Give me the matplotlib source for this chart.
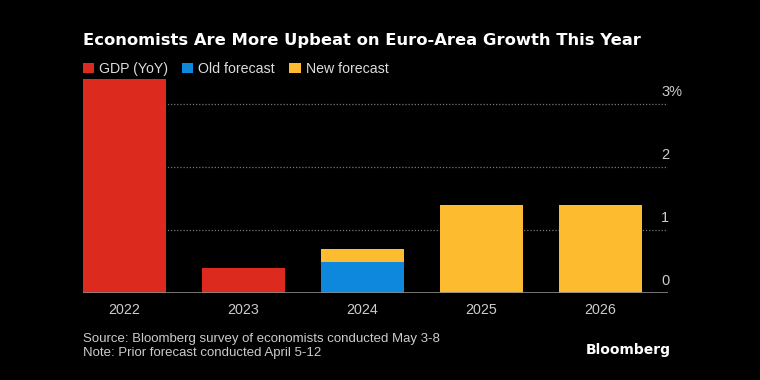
import matplotlib.pyplot as plt
from matplotlib import font_manager
from matplotlib.transforms import blended_transform_factory

years = ['2022', '2023', '2024', '2025', '2026']
gdp_years = ['2022', '2023']
gdp_vals = [3.4, 0.4]
old_years = ['2024']
old_vals = [0.5]
new_years = ['2024', '2025', '2026']
new_vals = [0.7, 1.4, 1.4]
yticks = [0, 1, 2, 3]

RED = '#dc2a1f'
BLUE = '#0e88dc'
YELLOW = '#fdbb30'
BG = '#000000'

names = {f.name for f in font_manager.fontManager.ttflist}
cond = 'Liberation Sans Narrow' if 'Liberation Sans Narrow' in names else 'Liberation Sans'
plt.rcParams['font.family'] = [cond, 'DejaVu Sans']

fig = plt.figure(figsize=(7.6, 3.8), dpi=100, facecolor=BG)
ax = fig.add_axes([83 / 760, 1 - 293 / 380, (668 - 83) / 760, (293 - 79) / 380])
ax.set_facecolor(BG)

idx = {y: i for i, y in enumerate(years)}
w = 0.7
ax.bar([idx[y] for y in gdp_years], gdp_vals, width=w, color=RED, label='GDP (YoY)', zorder=3)
ax.bar([idx[y] for y in new_years], new_vals, width=w, color=YELLOW, label='New forecast', zorder=3)
ax.bar([idx[y] for y in old_years], old_vals, width=w, color=BLUE, label='Old forecast', zorder=4)

ax.set_xlim(-w / 2, 4.567)
ax.set_ylim(0, 3.4)

for t in yticks[1:]:
    ax.axhline(t, color='#777777', lw=0.9, ls=(0, (1, 1.5)), zorder=1)
ax.axhline(0, color='#8a8a8a', lw=1.2, zorder=5)

tr = blended_transform_factory(fig.transFigure, ax.transData)
for t in yticks:
    lab = f'{t}%' if t == yticks[-1] else f'{t}'
    ax.text(661 / 760, t + 0.08, lab, transform=tr,
            ha='left', va='bottom', color='#cccccc', fontsize=10.5)

ax.set_xticks(range(len(years)))
ax.set_xticklabels(years)
ax.tick_params(axis='x', length=0, pad=7, labelcolor='#cccccc', labelsize=10.3)
ax.set_yticks([])
for s in ax.spines.values():
    s.set_visible(False)

handles, labels = ax.get_legend_handles_labels()
order = [labels.index(l) for l in ['GDP (YoY)', 'Old forecast', 'New forecast']]
fig.legend([handles[i] for i in order], [labels[i] for i in order],
           loc='center left', bbox_to_anchor=(77 / 760, 1 - 69 / 380), ncol=3,
           frameon=False, handlelength=0.8, handleheight=0.8, handletextpad=0.35,
           columnspacing=1.0, fontsize=10.2, labelcolor='#dddddd', borderaxespad=0)

fig.text(83 / 760, 1 - 40 / 380, 'Economists Are More Upbeat on Euro-Area Growth This Year',
         color='white', fontsize=11.8, fontweight='bold', family='DejaVu Sans', va='center', ha='left')

fig.text(83 / 760, 1 - 339 / 380, 'Source: Bloomberg survey of economists conducted May 3-8',
         color='#cccccc', fontsize=9.5, va='center', ha='left')
fig.text(83 / 760, 1 - 353 / 380, 'Note: Prior forecast conducted April 5-12',
         color='#cccccc', fontsize=9.5, va='center', ha='left')
fig.text(671 / 760, 1 - 350 / 380, 'Bloomberg', color='white', fontsize=10,
         fontweight='bold', family='DejaVu Sans', va='center', ha='right')

fig.savefig('out.png', dpi=100, facecolor=BG)
